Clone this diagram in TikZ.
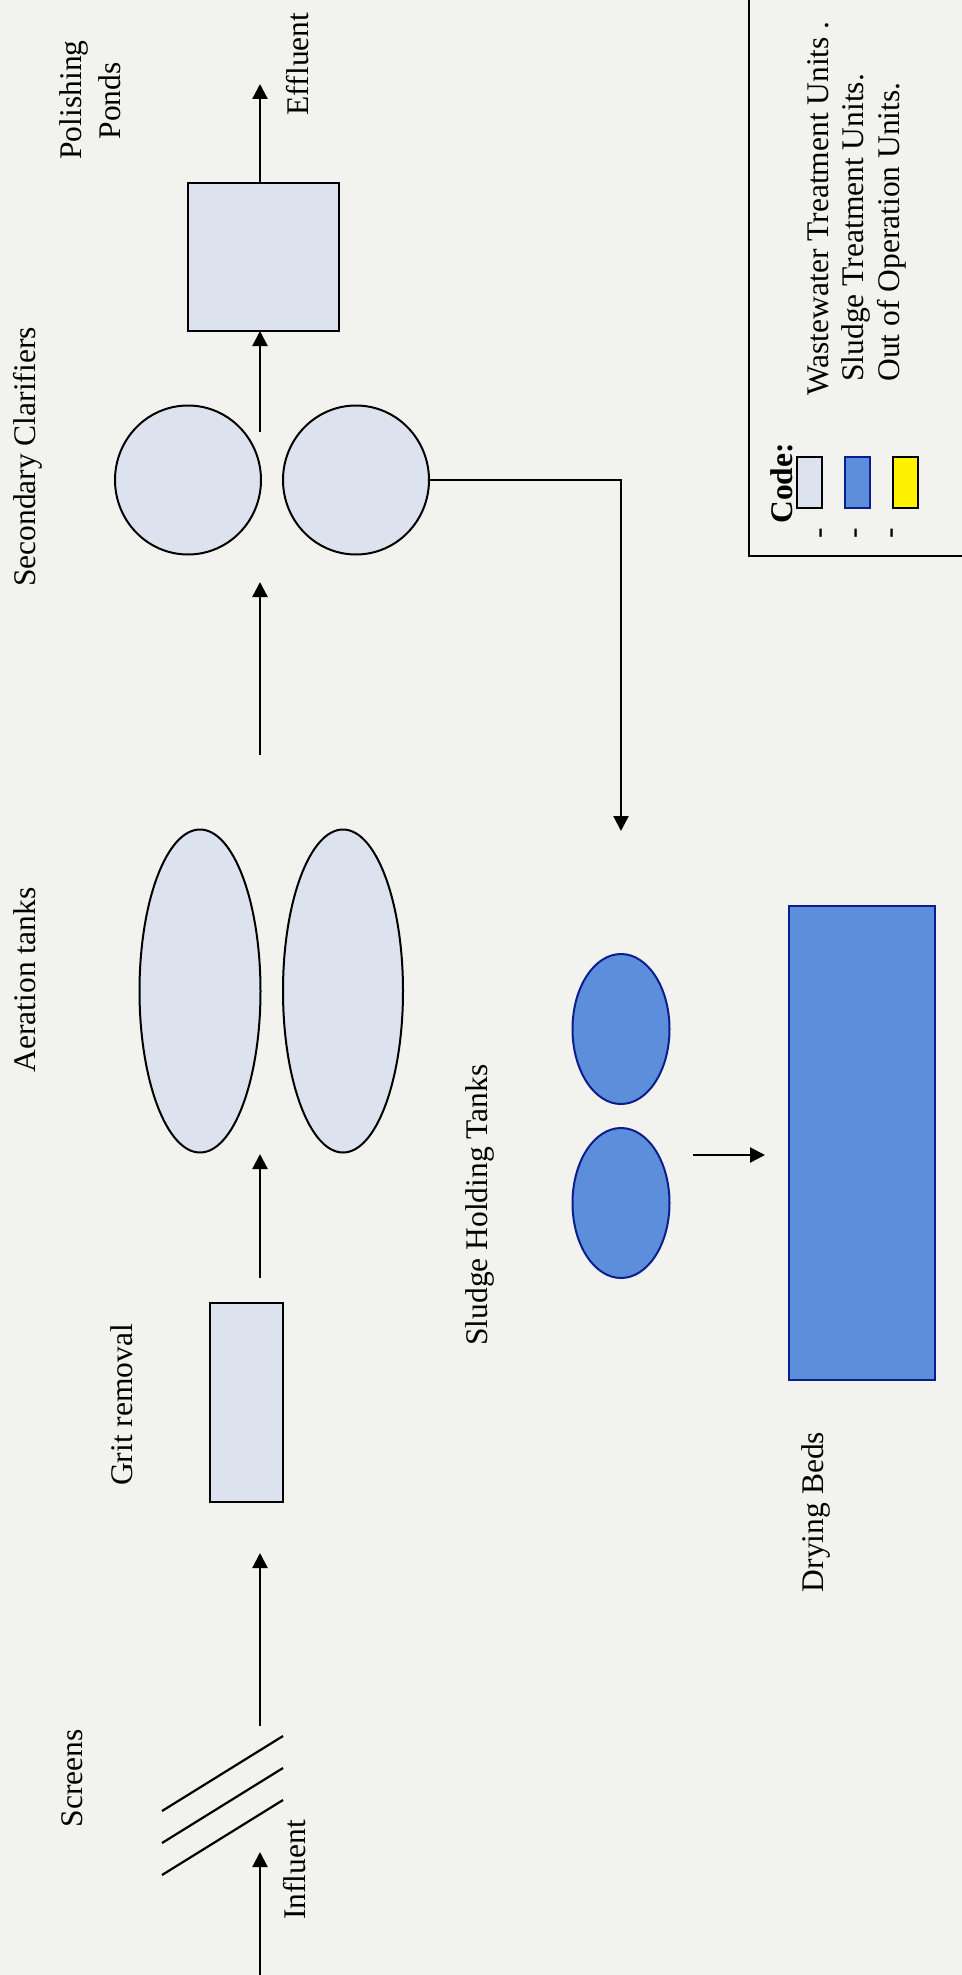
\documentclass[tikz,border=0pt]{standalone}
\usepackage{fontspec}
\setmainfont{Liberation Serif}
\usetikzlibrary{arrows.meta,shapes.geometric}

\definecolor{paper}{HTML}{F2F2EF}
\definecolor{wwfill}{HTML}{DCE3EE}
\definecolor{sludgefill}{HTML}{5C8EDC}
\definecolor{sludgeline}{HTML}{0B1E8C}
\definecolor{offfill}{HTML}{FFF200}

\tikzset{
  flow/.style={line width=1.15pt, -{Triangle[length=7.5pt,width=7.5pt]}},
  wwunit/.style={draw=black, line width=1pt, fill=wwfill, inner sep=0pt, outer sep=0pt},
  sludgeunit/.style={draw=sludgeline, line width=1pt, fill=sludgefill, inner sep=0pt, outer sep=0pt},
  lbl/.style={rotate=90, anchor=base, inner sep=0pt, font=\fontsize{15.75}{18.5}\selectfont},
  lgtext/.style={rotate=90, anchor=base west, inner sep=0pt, font=\fontsize{15.75}{18.5}\selectfont},
  swatch/.style={line width=1pt, inner sep=0pt, outer sep=0pt, minimum width=12.5pt, minimum height=25.5pt},
}

\begin{document}
\begin{tikzpicture}[x=0.5pt, y=-0.5pt]
  % sheet
  \fill[paper] (0,0) rectangle (962,1975);
  \useasboundingbox (0,0) rectangle (962,1975);

  % ---- wastewater line ----
  \node[wwunit, rectangle, minimum width=75.5pt, minimum height=74pt] (pond) at (263.5,257) {};
  \node[wwunit, ellipse, minimum width=73pt, minimum height=74.5pt] (clarL) at (188,480) {};
  \node[wwunit, ellipse, minimum width=73pt, minimum height=74.5pt] (clarR) at (356,480) {};
  \node[wwunit, ellipse, minimum width=60.5pt, minimum height=161.5pt] (aerL) at (200,991) {};
  \node[wwunit, ellipse, minimum width=60pt, minimum height=161.5pt] (aerR) at (343,991) {};
  \node[wwunit, rectangle, minimum width=36.5pt, minimum height=99.5pt] (grit) at (246.5,1402.5) {};

  % bar screens
  \draw[line width=1.1pt] (162,1811) -- (283,1736);
  \draw[line width=1.1pt] (162,1843) -- (283,1768);
  \draw[line width=1.1pt] (162,1875) -- (283,1800);

  % ---- sludge line ----
  \node[sludgeunit, ellipse, minimum width=48.5pt, minimum height=75pt] (shtA) at (621,1029) {};
  \node[sludgeunit, ellipse, minimum width=48.5pt, minimum height=75pt] (shtB) at (621,1203) {};
  \node[sludgeunit, rectangle, minimum width=73pt, minimum height=237pt] (beds) at (862,1143) {};

  % ---- flow arrows ----
  \coordinate (inA) at (260,1975);   \coordinate (inB) at (260,1852);
  \coordinate (scA) at (260,1726);   \coordinate (scB) at (260,1553);
  \coordinate (grA) at (260,1278);   \coordinate (grB) at (260,1154);
  \coordinate (aeA) at (260,755);    \coordinate (aeB) at (260,582);
  \coordinate (clA) at (260,432);    \coordinate (clB) at (260,331);
  \coordinate (poA) at (260,183);    \coordinate (poB) at (260,84);
  \coordinate (sdB) at (621,831);
  \coordinate (shA) at (693,1155);   \coordinate (shB) at (765,1155);

  \draw[flow] (inA) -- (inB);
  \draw[flow] (scA) -- (scB);
  \draw[flow] (grA) -- (grB);
  \draw[flow] (aeA) -- (aeB);
  \draw[flow] (clA) -- (clB);
  \draw[flow] (poA) -- (poB);
  \draw[flow] (clarR.east) -| (sdB);
  \draw[flow] (shA) -- (shB);

  % ---- labels ----
  \node[lbl] (tPol) at (81,100) {Polishing};
  \node[lbl] (tPon) at (120,101) {Ponds};
  \node[lbl] (tEff) at (308,64) {Effluent};
  \node[lbl] (tSec) at (35,457) {Secondary Clarifiers};
  \node[lbl] (tAer) at (35,980) {Aeration tanks};
  \node[lbl] (tGrit) at (132,1405) {Grit removal};
  \node[lbl] (tScr) at (82,1778) {Screens};
  \node[lbl] (tInf) at (305,1870) {Influent};
  \node[lbl] (tSht) at (487,1205) {Sludge Holding Tanks};
  \node[lbl] (tBed) at (823,1512) {Drying Beds};

  % ---- key ----
  \draw[line width=1pt] (749,0) -- (749,556) -- (962,556);
  \node[lgtext, font=\fontsize{15.75}{18.5}\selectfont\bfseries] (kCode) at (792,524) {Code:};
  \node[lgtext] (kD1) at (828,539) {-};
  \node[lgtext] (kD2) at (863,539) {-};
  \node[lgtext] (kD3) at (899,539) {-};
  \node[swatch, draw=black, fill=wwfill] (kS1) at (809.5,482.5) {};
  \node[swatch, draw=sludgeline, fill=sludgefill] (kS2) at (857.5,482.5) {};
  \node[swatch, draw=black, fill=offfill] (kS3) at (905.5,482.5) {};
  \node[lgtext] (kT1) at (828,396) {Wastewater Treatment Units .};
  \node[lgtext] (kT2) at (863,382) {Sludge Treatment Units.};
  \node[lgtext] (kT3) at (899,382) {Out of Operation Units.};
\end{tikzpicture}
\end{document}
